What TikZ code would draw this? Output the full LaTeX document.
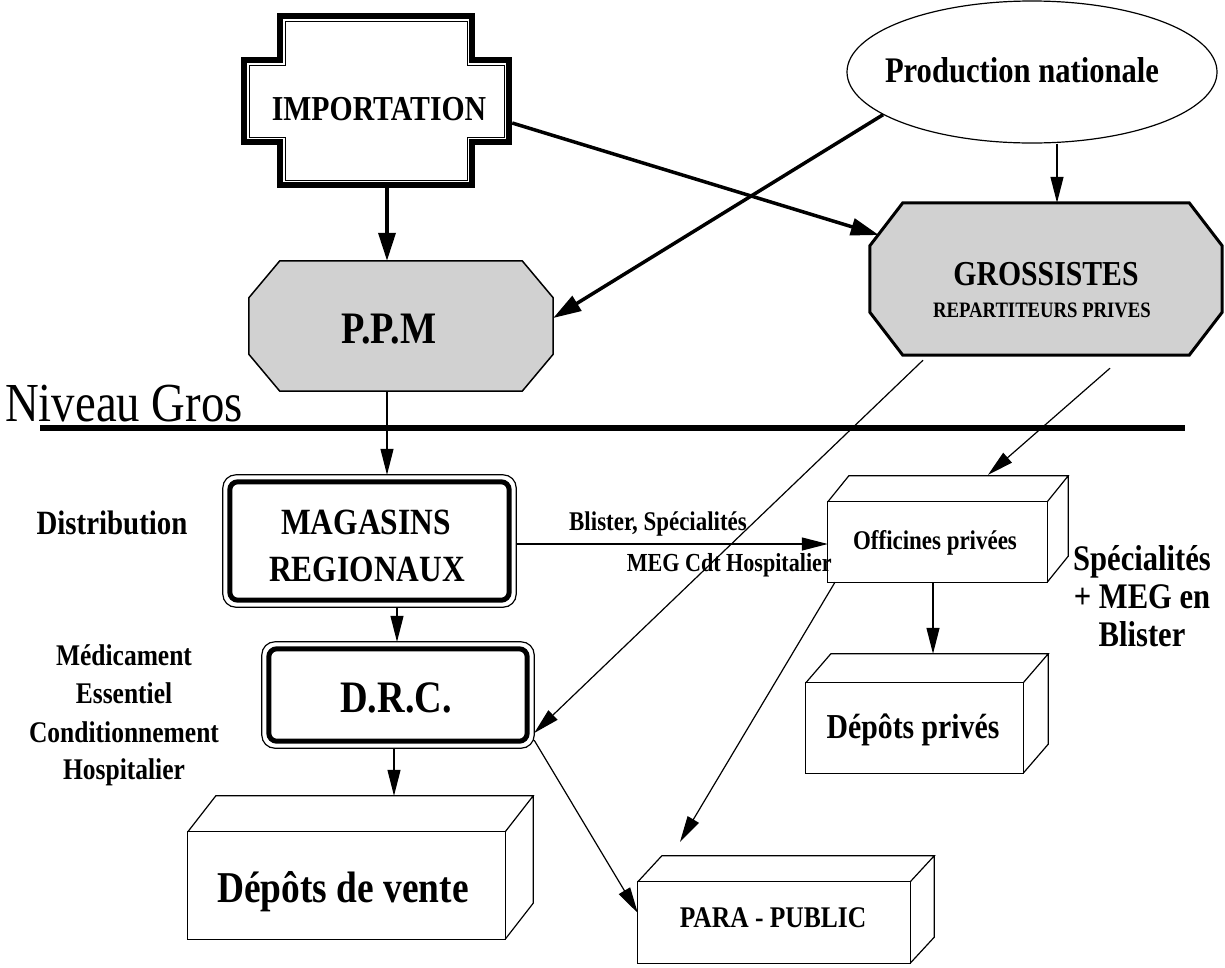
\documentclass[tikz,border=0pt]{standalone}
\usepackage{fontspec}
\setmainfont{Liberation Serif}[FakeStretch=0.85]
\usetikzlibrary{arrows.meta,shapes.geometric}
\definecolor{boxgray}{gray}{0.82}
\newcommand\setfs[1]{\fontsize{#1}{#1}\selectfont}
\tikzset{
  lbl/.style={inner sep=0pt, anchor=base, font=\bfseries\setfs{#1}},
  frame/.style={inner sep=0pt, draw=none},
  thinarrow/.style={line width=1.2pt, -{Triangle[length=26pt,width=13pt]}},
  thickarrow/.style={line width=3.5pt, -{Triangle[length=28pt,width=17pt]}},
  outline/.style={line width=1.2pt, line join=miter},
}
\newcommand\cuboid[3]{%
  \draw[outline] (#1.north west) rectangle (#1.south east);
  \draw[outline] (#1.north west) -- ++(#2pt,#3pt) -- ([shift={(#2pt,#3pt)}]#1.north east) -- (#1.north east)
    ([shift={(#2pt,#3pt)}]#1.north east) -- ([shift={(#2pt,#3pt)}]#1.south east) -- (#1.south east);
}
\newcommand\dframe[1]{%
  \draw[line width=1.2pt, rounded corners=13pt] (#1.north west) rectangle (#1.south east);
  \draw[line width=5pt, rounded corners=8pt] ([shift={(7pt,-7pt)}]#1.north west) rectangle ([shift={(-7pt,7pt)}]#1.south east);
}
\newcommand\octa[4]{%
  \draw[fill=boxgray, line width=#4, line join=miter] ([xshift=#2]#1.north west) -- ([xshift=-#2]#1.north east) -- ([yshift=-#3]#1.north east) -- ([yshift=#3]#1.south east) -- ([xshift=-#2]#1.south east) -- ([xshift=#2]#1.south west) -- ([yshift=#3]#1.south west) -- ([yshift=-#3]#1.north west) -- cycle;
}
\begin{document}
\begin{tikzpicture}[x=1pt,y=-1pt]
\fill[white] (0,0) rectangle (1225,967);
\useasboundingbox (0,0) rectangle (1225,967);

% frames (named nodes)
\node[frame, minimum width=271pt, minimum height=175pt] (imp) at (376.5,100.5) {};
\node[ellipse, draw, line width=1.2pt, inner sep=0pt, minimum width=370pt, minimum height=142pt] (prod) at (1032,72) {};
\node[frame, minimum width=304pt, minimum height=130pt] (ppm) at (401,326) {};
\node[frame, minimum width=352pt, minimum height=152pt] (gro) at (1046,279) {};
\node[frame, minimum width=293pt, minimum height=132pt] (mag) at (369.5,541) {};
\node[frame, minimum width=272pt, minimum height=106pt] (drc) at (398,695) {};
\node[frame, minimum width=219pt, minimum height=80pt] (off) at (937.5,542) {};
\node[frame, minimum width=217pt, minimum height=90pt] (dpr) at (914.5,728) {};
\node[frame, minimum width=317pt, minimum height=107pt] (dv) at (346.5,885.5) {};
\node[frame, minimum width=272pt, minimum height=81pt] (para) at (774,922.5) {};

% IMPORTATION cross
\draw[line width=5.5pt, line join=miter] (280,16) -- (472,16) -- (472,60) -- (509,60) -- (509,142) -- (472,142) -- (472,185) -- (280,185) -- (280,142) -- (244,142) -- (244,60) -- (280,60) -- cycle;
\draw[line width=1pt] (285,21) -- (467,21) -- (467,65) -- (504,65) -- (504,137) -- (467,137) -- (467,180) -- (285,180) -- (285,137) -- (249,137) -- (249,65) -- (285,65) -- cycle;

\octa{ppm}{31pt}{37pt}{1.5pt}
\octa{gro}{33pt}{43pt}{3pt}
\dframe{mag}
\dframe{drc}
\cuboid{off}{21}{26}
\cuboid{dpr}{25}{29}
\cuboid{dv}{28}{36}
\cuboid{para}{24}{26}

% separator
\draw[line width=6pt] (40,428) -- (1185,428);

% texts
\node[lbl=35] (timp) at (379,120) {IMPORTATION};
\node[lbl=36] (tprod) at (1022,82) {Production nationale};
\node[lbl=45] (tppm) at (389,343) {P.P.M};
\node[lbl=35] (tgro1) at (1046,285) {GROSSISTES};
\node[lbl=22] (tgro2) at (1042,317) {REPARTITEURS PRIVES};
\node[inner sep=0pt, anchor=base west, font=\setfs{55}] (tniv) at (5,421) {Niveau Gros};
\node[lbl=34] (tdist) at (112,534) {Distribution};
\node[lbl=37] (tmag1) at (366,534) {MAGASINS};
\node[lbl=37] (tmag2) at (367,581) {REGIONAUX};
\node[lbl=27] (tblis) at (658,530) {Blister, Spécialités};
\node[lbl=26, anchor=base east] (tmeg) at (832,571) {MEG Cdt Hospitalier};
\node[lbl=27] (toff) at (935,549) {Officines privées};
\node[lbl=36] (tsp1) at (1142,570) {Spécialités};
\node[lbl=36] (tsp2) at (1142,608) {+ MEG en};
\node[lbl=36] (tsp3) at (1142,646) {Blister};
\node[lbl=30] (tm1) at (124,665) {Médicament};
\node[lbl=30] (tm2) at (124,703) {Essentiel};
\node[lbl=30] (tm3) at (124,742) {Conditionnement};
\node[lbl=30] (tm4) at (124,779) {Hospitalier};
\node[lbl=45] (tdrc) at (396,712) {D.R.C.};
\node[lbl=35] (tdpr) at (913,738) {Dépôts privés};
\node[lbl=44] (tdv) at (343,902) {Dépôts de vente};
\node[lbl=30] (tpara) at (773,927) {PARA - PUBLIC};

% connectors
\draw[thickarrow] ([xshift=10.5pt]imp.south) -- ([xshift=-14pt]ppm.north);
\draw[thickarrow] ([yshift=-22.5pt]imp.east) -- ([shift={(9pt,44pt)}]gro.west);
\draw[thickarrow] (prod.196) -- ([yshift=8pt]ppm.east);
\draw[thinarrow] ([xshift=25pt]prod.south) -- ([xshift=11pt]gro.north);
\draw[thinarrow] ([xshift=-14pt]ppm.south) -- ([xshift=17.5pt]mag.north);
\draw[thinarrow] ([xshift=27.5pt]mag.south) -- ([xshift=-1pt]drc.north);
\draw[thinarrow] ([xshift=-4pt]drc.south) -- ([shift={(47.5pt,36pt)}]dv.north);
\draw[thinarrow] ([yshift=-3pt]mag.east) -- ([yshift=-2pt]off.west);
\draw[thinarrow] ([shift={(-123pt,-5pt)}]gro.south) -- ([yshift=-38pt]drc.east);
\draw[thinarrow] ([shift={(64pt,-13pt)}]gro.south) -- ([shift={(50.5pt,27pt)}]off.north);
\draw[thinarrow] ([xshift=-4.5pt]off.south) -- ([shift={(18.5pt,29pt)}]dpr.north);
\draw[thinarrow] ([xshift=-102.5pt]off.south) -- ([shift={(-94pt,40pt)}]para.north);
\draw[thinarrow] ([yshift=8pt]drc.south east) -- ([yshift=9.5pt]para.west);
\end{tikzpicture}
\end{document}
